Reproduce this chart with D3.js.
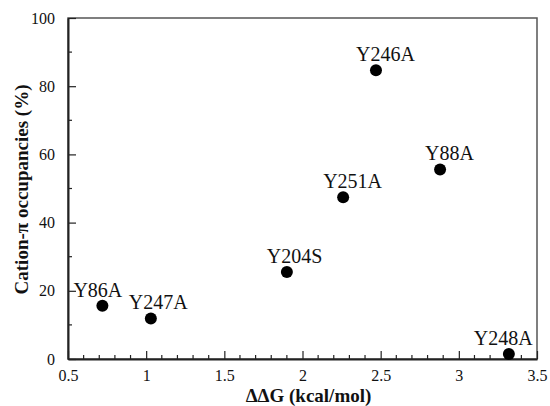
<!DOCTYPE html>
<html>
<head>
<meta charset="utf-8">
<script src="https://cdn.jsdelivr.net/npm/d3@7"></script>
<style>
  body { margin: 0; background: #fff; }
  svg text { font-family: "Liberation Serif", "Tinos", "Times New Roman", "DejaVu Serif", serif !important; fill: #111; }
</style>
</head>
<body>
<div id="chart"></div>
<script>
// mutants, ddG (kcal/mol) and cation-pi occupancy (%)
const mutants = ["Y86A", "Y247A", "Y204S", "Y251A", "Y246A", "Y88A", "Y248A"];
const ddG = [0.72, 1.03, 1.90, 2.26, 2.47, 2.88, 3.32];
const occupancy = [15.6, 11.9, 25.5, 47.4, 84.7, 55.6, 1.5];
const xTicks = [0.5, 1, 1.5, 2, 2.5, 3, 3.5];
const yTicks = [0, 20, 40, 60, 80, 100];

const width = 550, height = 406;
const margin = { top: 18, right: 13, bottom: 47, left: 68 };
const w = width - margin.left - margin.right;
const h = height - margin.top - margin.bottom;

const svg = d3.select("#chart").append("svg")
    .attr("width", width)
    .attr("height", height);

const g = svg.append("g")
    .attr("transform", "translate(" + margin.left + "," + margin.top + ")");

const x = d3.scaleLinear().domain([0.5, 3.5]).range([0, w]);
const y = d3.scaleLinear().domain([0, 100]).range([h, 0]);

// frame (top and right)
g.append("rect")
    .attr("x", 0).attr("y", 0)
    .attr("width", w).attr("height", h)
    .attr("fill", "none")
    .attr("stroke", "#555")
    .attr("stroke-width", 1.5);

// minor ticks
g.append("g")
    .selectAll("line")
    .data(d3.range(0.6, 3.5, 0.1).filter(v => Math.abs(v * 2 - Math.round(v * 2)) > 0.01))
    .enter().append("line")
    .attr("x1", d => x(d)).attr("x2", d => x(d))
    .attr("y1", h).attr("y2", h - 4)
    .attr("stroke", "#222").attr("stroke-width", 1.2);

g.append("g")
    .selectAll("line")
    .data(d3.range(10, 100, 20))
    .enter().append("line")
    .attr("x1", 0).attr("x2", 4)
    .attr("y1", d => y(d)).attr("y2", d => y(d))
    .attr("stroke", "#222").attr("stroke-width", 1.2);

// X axis
const xAxis = g.append("g")
    .attr("transform", "translate(0," + h + ")")
    .call(d3.axisBottom(x).tickValues(xTicks).tickSizeInner(-8).tickSizeOuter(0)
        .tickPadding(11).tickFormat(d3.format("")));
xAxis.attr("font-family", null);
xAxis.select(".domain").attr("stroke", "#222").attr("stroke-width", 2);
xAxis.selectAll(".tick line").attr("stroke", "#222").attr("stroke-width", 1.2);
xAxis.selectAll(".tick text").attr("font-size", 16).attr("fill", "#111");

// Y axis
const yAxis = g.append("g")
    .call(d3.axisLeft(y).tickValues(yTicks).tickSizeInner(-8).tickSizeOuter(0)
        .tickPadding(13));
yAxis.attr("font-family", null);
yAxis.select(".domain").attr("stroke", "#222").attr("stroke-width", 2);
yAxis.selectAll(".tick line").attr("stroke", "#222").attr("stroke-width", 1.2);
yAxis.selectAll(".tick text").attr("font-size", 16).attr("fill", "#111");

// axis titles
svg.append("text")
    .attr("x", margin.left + w / 2 + 6)
    .attr("y", 402)
    .attr("text-anchor", "middle")
    .attr("font-size", 19)
    .attr("font-weight", "bold")
    .text("ΔΔG (kcal/mol)");

svg.append("text")
    .attr("transform", "translate(28," + (margin.top + h / 2 + 1) + ") rotate(-90)")
    .attr("text-anchor", "middle")
    .attr("font-size", 19)
    .attr("font-weight", "bold")
    .text("Cation-π occupancies (%)");

// points
const data = mutants.map((m, i) => ({ name: m, x: ddG[i], y: occupancy[i] }));

g.append("g")
    .selectAll("circle")
    .data(data)
    .enter().append("circle")
    .attr("cx", d => x(d.x))
    .attr("cy", d => y(d.y))
    .attr("r", 6)
    .attr("fill", "#000");

// labels sit up and to the left of each point
const labelShift = { "Y86A": -29, "Y247A": -22, "Y88A": -15, "Y248A": -35 };
g.append("g")
    .selectAll("text")
    .data(data)
    .enter().append("text")
    .attr("x", d => x(d.x) + (labelShift[d.name] !== undefined ? labelShift[d.name] : -20))
    .attr("y", d => y(d.y) - 9)
    .attr("font-size", 20)
    .text(d => d.name);
</script>
</body>
</html>
